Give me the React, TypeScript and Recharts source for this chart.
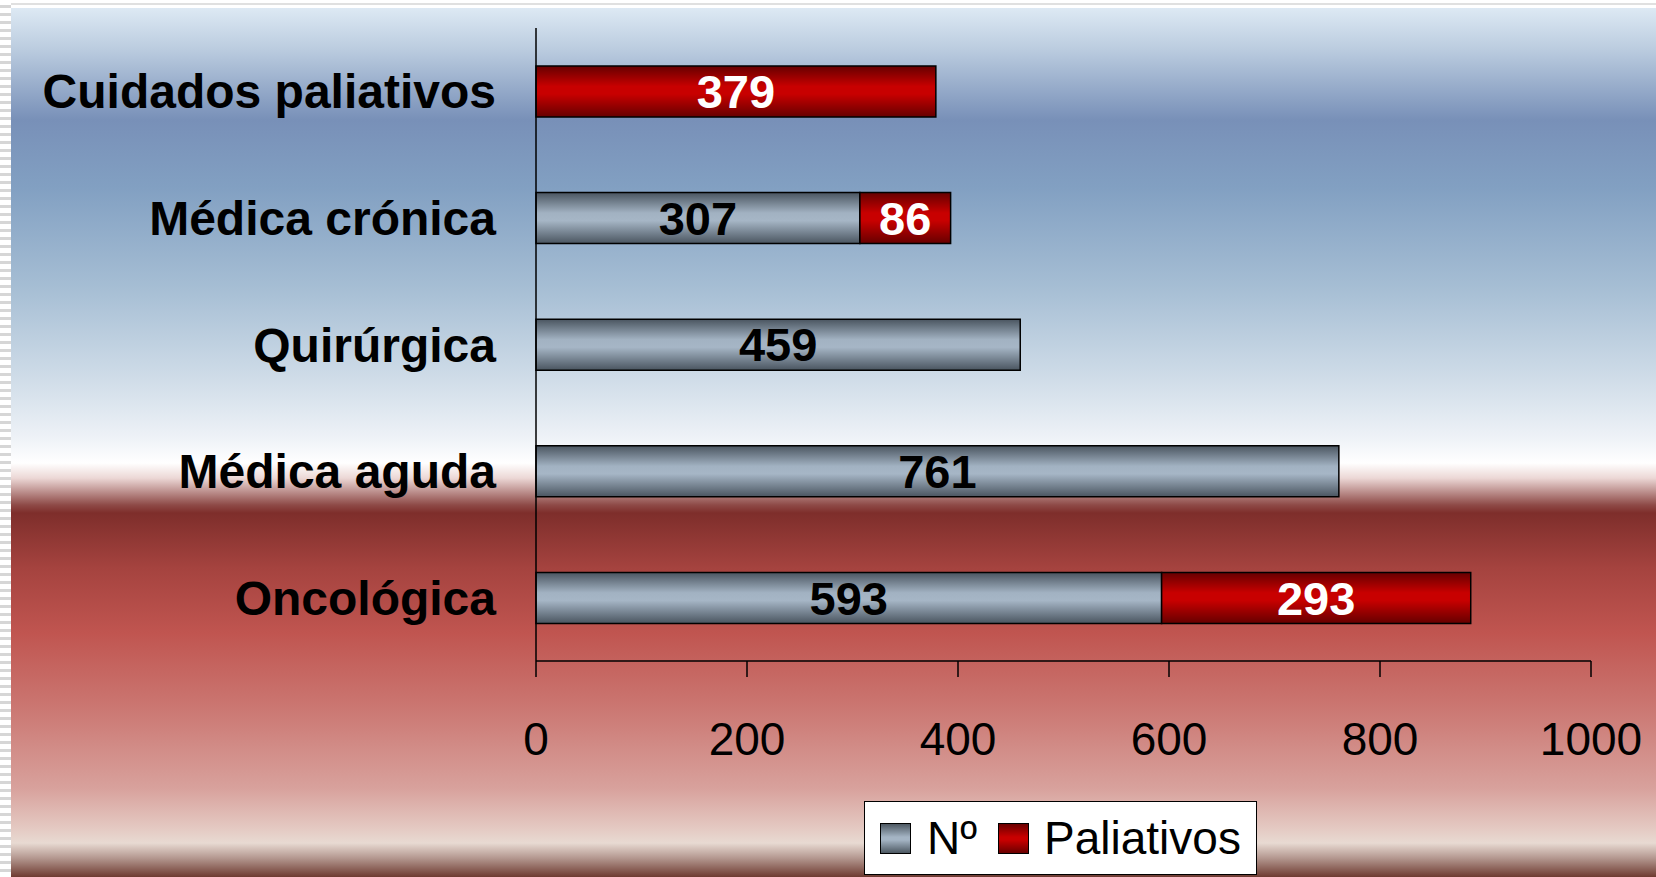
import { BarChart, Bar, XAxis, YAxis, LabelList, Legend } from 'recharts'

const categories = ['Cuidados paliativos', 'Médica crónica', 'Quirúrgica', 'Médica aguda', 'Oncológica']
const numero = [0, 307, 459, 761, 593]
const paliativos = [379, 86, 0, 0, 293]
const xTicks = [0, 200, 400, 600, 800, 1000]

const data = categories.map((name, i) => ({ name, n: numero[i], p: paliativos[i] }))

const FONT = "'Liberation Sans', Arial, sans-serif"

const bgGradient =
  'linear-gradient(to bottom, #dde9f4 0px, #bccde0 40px, #7890b8 112px, #82a0c2 180px, #a6bed4 280px, #cfdce8 370px, #eef2f7 430px, #ffffff 455px, #ecd8d6 470px, #8e4a47 497px, #7e2e2b 505px, #a5433f 560px, #c05550 625px, #cb7772 700px, #d8a19c 780px, #e4c9c2 820px, #e8dad2 835px, #b49890 850px, #6e3a30 869px)'

const hide = (v: any) => (v ? v : '')

function LegendBox() {
  const sq = (bg: string) => ({
    width: 29,
    height: 29,
    border: '1.5px solid #000',
    background: bg,
    display: 'inline-block',
  })
  return (
    <div
      style={{
        width: 391,
        height: 72,
        background: '#fff',
        border: '1.5px solid #000',
        display: 'flex',
        alignItems: 'center',
        fontFamily: FONT,
        fontSize: 46,
        color: '#000',
        boxSizing: 'content-box',
      }}
    >
      <span style={{ ...sq('linear-gradient(#4d5862, #a4b4c4 45%, #a4b4c4 55%, #4d5862)'), marginLeft: 15 }} />
      <span style={{ marginLeft: 16 }}>Nº</span>
      <span style={{ ...sq('linear-gradient(#6a0000, #c80000 45%, #c80000 55%, #6a0000)'), marginLeft: 21 }} />
      <span style={{ marginLeft: 15 }}>Paliativos</span>
    </div>
  )
}

export default function App() {
  return (
    <div
      style={{
        position: 'absolute',
        left: 0,
        top: 0,
        width: 1656,
        height: 877,
        background: '#fff',
        overflow: 'hidden',
      }}
    >
      <div
        style={{
          position: 'absolute',
          left: 0,
          top: 0,
          width: 11,
          height: 877,
          background: 'repeating-linear-gradient(to bottom, #ffffff 0px, #ffffff 5px, #d6d6d6 5px, #d6d6d6 8px)',
        }}
      />
      <div style={{ position: 'absolute', left: 11, top: 3, width: 1645, height: 2, background: '#e0e0e0' }} />
      <div style={{ position: 'absolute', left: 11, top: 8, width: 1645, height: 869, background: bgGradient }} />
      <div style={{ position: 'absolute', left: 0, top: 0 }}>
        <BarChart
          width={1656}
          height={877}
          data={data}
          layout="vertical"
          margin={{ top: 28, right: 65, bottom: 0, left: 0 }}
          barSize={51}
        >
          <defs>
            <linearGradient id="gGray" x1="0" y1="0" x2="0" y2="1">
              <stop offset="0" stopColor="#4a5560" />
              <stop offset="0.4" stopColor="#a2b2c2" />
              <stop offset="0.55" stopColor="#a6b6c6" />
              <stop offset="1" stopColor="#4a5560" />
            </linearGradient>
            <linearGradient id="gRed" x1="0" y1="0" x2="0" y2="1">
              <stop offset="0" stopColor="#660000" />
              <stop offset="0.4" stopColor="#c80000" />
              <stop offset="0.55" stopColor="#c80000" />
              <stop offset="1" stopColor="#660000" />
            </linearGradient>
          </defs>
          <XAxis
            type="number"
            domain={[0, 1000]}
            ticks={xTicks}
            height={216}
            tickSize={16}
            tickMargin={45}
            interval={0}
            stroke="#000"
            strokeWidth={1.5}
            tick={{ fill: '#000', fontSize: 46, fontFamily: FONT }}
            tickLine={{ stroke: '#000', strokeWidth: 1.5 }}
            axisLine={{ stroke: '#000', strokeWidth: 1.5 }}
          />
          <YAxis
            type="category"
            dataKey="name"
            width={536}
            tickSize={0}
            tickMargin={40}
            tickLine={false}
            interval={0}
            axisLine={{ stroke: '#000', strokeWidth: 1.5 }}
            tick={{ fill: '#000', fontSize: 48, fontWeight: 'bold', fontFamily: FONT }}
          />
          <Legend
            layout="horizontal"
            verticalAlign="middle"
            align="center"
            wrapperStyle={{ left: 864, top: 801, width: 394, height: 75 }}
            content={() => <LegendBox />}
          />
          <Bar dataKey="n" name="Nº" stackId="a" fill="url(#gGray)" stroke="#000" strokeWidth={1.5} isAnimationActive={false}>
            <LabelList
              dataKey="n"
              position="center"
              formatter={hide}
              fill="#000"
              style={{ fontSize: 47, fontWeight: 'bold', fontFamily: FONT }}
            />
          </Bar>
          <Bar dataKey="p" name="Paliativos" stackId="a" fill="url(#gRed)" stroke="#000" strokeWidth={1.5} isAnimationActive={false}>
            <LabelList
              dataKey="p"
              position="center"
              formatter={hide}
              fill="#fff"
              style={{ fontSize: 47, fontWeight: 'bold', fontFamily: FONT }}
            />
          </Bar>
        </BarChart>
      </div>
    </div>
  )
}
